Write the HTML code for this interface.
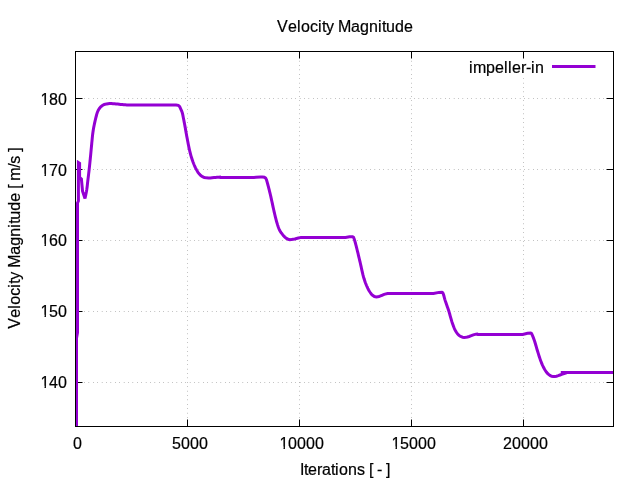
<!DOCTYPE html>
<html><head><meta charset="utf-8"><title>Velocity Magnitude</title>
<style>html,body{margin:0;padding:0;background:#fff;overflow:hidden}</style></head>
<body>
<svg width="640" height="480" viewBox="0 0 640 480" style="display:block">
<rect width="640" height="480" fill="#fff"/>
<path d="M75.5 382.5H613.5 M75.5 311.5H613.5 M75.5 240.5H613.5 M75.5 169.5H613.5 M75.5 98.5H613.5 M187.5 426.5V51.5 M299.5 426.5V51.5 M411.5 426.5V51.5 M523.5 426.5V76" stroke="#000" stroke-width="0.6" stroke-dasharray="0.4 4" fill="none"/>
<path d="M75.5 382.5h7M613.5 382.5h-7 M75.5 311.5h7M613.5 311.5h-7 M75.5 240.5h7M613.5 240.5h-7 M75.5 169.5h7M613.5 169.5h-7 M75.5 98.5h7M613.5 98.5h-7 M75.5 426.5v-7M75.5 51.5v7 M187.5 426.5v-7M187.5 51.5v7 M299.5 426.5v-7M299.5 51.5v7 M411.5 426.5v-7M411.5 51.5v7 M523.5 426.5v-7M523.5 51.5v7" stroke="#000" stroke-width="1" fill="none"/>
<clipPath id="feet"><path clip-rule="evenodd" d="M0 0H640V480H0Z M40.00 385.80H44.52V389.10H40.00Z M45.94 385.80H49.80V389.10H45.94Z M40.00 314.80H44.52V318.10H40.00Z M45.94 314.80H49.80V318.10H45.94Z M40.00 243.80H44.52V247.10H40.00Z M45.94 243.80H49.80V247.10H45.94Z M40.00 173.80H44.52V177.10H40.00Z M45.94 173.80H49.80V177.10H45.94Z M40.00 102.80H44.52V106.10H40.00Z M45.94 102.80H49.80V106.10H45.94Z M279.00 446.40H283.52V449.70H279.00Z M284.94 446.40H288.80V449.70H284.94Z M391.00 446.40H395.52V449.70H391.00Z M396.94 446.40H400.80V449.70H396.94Z"/></clipPath>
<g font-family="'Liberation Sans', Arial, sans-serif" font-size="16" fill="#000" stroke="#000" stroke-width="0.2" style="font-kerning:none">
<g clip-path="url(#feet)">
<text x="40.5 49 58" y="388.1">140</text>
<text x="40.5 49 58" y="317.1">150</text>
<text x="40.5 49 58" y="246.1">160</text>
<text x="40.5 49 58" y="176.1">170</text>
<text x="40.5 49 58" y="105.1">180</text>
<text x="73" y="448.7">0</text>
<text x="172 181 190 199" y="448.7">5000</text>
<text x="279.5 288 297 306 315" y="448.7">10000</text>
<text x="391.5 400 409 418 427" y="448.7">15000</text>
<text x="503 512 521 530 539" y="448.7">20000</text>
</g>
<text x="277 288 297 301 310 318 322 326 334 338 351 360 369 378 382 386 395 404" y="31.6">Velocity Magnitude</text>
<text x="300 304 308 317 322 331 335 339 348 357 365 369 373 377 382 386" y="475">Iterations [ - ]</text>
<text x="0 11 20 24 33 41 45 49 57 61 74 83 92 101 105 109 118 127 136 140 144 148 161 165 173 177" y="0" transform="translate(19.5 328.7) rotate(-90)">Velocity Magnitude [ m/s ]</text>
<text x="469 473 486 495 504 508 512 521 526 531 535" y="72.7">impeller-in</text>
</g>
<path d="M552 66.5H595.5" stroke="#9400d3" stroke-width="3" fill="none"/>
<clipPath id="c"><rect x="75" y="51" width="539" height="376"/></clipPath>
<polyline clip-path="url(#c)" points="76.50,430.00 76.50,338.30 77.50,332.60 77.50,203.00 78.40,201.00 78.40,162.60 79.60,163.40 79.60,177.50 81.40,179.00 82.55,191.20 85.00,198.40 85.35,196.73 85.71,195.08 86.06,193.42 86.40,191.73 86.70,190.00 86.94,188.39 87.15,186.74 87.34,185.06 87.52,183.37 87.71,181.68 87.90,180.00 88.10,178.34 88.30,176.70 88.50,175.06 88.70,173.40 88.90,171.72 89.10,170.00 89.26,168.55 89.42,167.08 89.58,165.58 89.74,164.07 89.89,162.55 90.05,161.03 90.20,159.51 90.35,158.00 90.50,156.51 90.64,155.02 90.78,153.53 90.92,152.04 91.06,150.55 91.20,149.05 91.35,147.53 91.50,146.00 91.65,144.51 91.79,142.96 91.95,141.38 92.10,139.78 92.25,138.21 92.41,136.66 92.57,135.18 92.73,133.79 92.90,132.50 93.16,130.70 93.43,129.08 93.70,127.55 94.00,126.00 94.31,124.45 94.64,122.91 94.98,121.41 95.30,120.00 95.80,117.93 96.30,116.00 96.78,114.18 97.30,112.50 98.30,110.20 99.40,108.50 100.70,106.90 102.40,105.50 104.30,104.50 106.60,103.90 108.06,103.68 109.60,103.55 111.25,103.55 113.00,103.65 114.49,103.77 116.06,103.93 117.75,104.10 119.15,104.24 120.65,104.39 122.20,104.55 123.75,104.69 125.25,104.80 126.89,104.89 128.44,104.94 130.09,104.97 132.00,105.00 133.19,105.01 134.46,105.01 135.81,105.01 137.24,105.00 138.72,104.99 140.25,104.98 141.83,104.96 143.43,104.95 145.07,104.93 146.71,104.92 148.36,104.91 150.00,104.90 151.41,104.90 152.84,104.89 154.30,104.89 155.79,104.89 157.30,104.89 158.82,104.89 160.37,104.89 161.92,104.89 163.49,104.89 165.06,104.89 166.63,104.89 168.21,104.90 169.78,104.90 171.35,104.90 172.91,104.90 174.46,104.90 176.00,104.90 178.30,105.30 179.70,106.60 180.90,109.30 181.57,110.81 182.20,112.50 182.56,113.85 182.89,115.36 183.19,116.94 183.50,118.50 183.81,120.06 184.11,121.60 184.42,123.22 184.75,125.00 185.00,126.37 185.26,127.84 185.54,129.39 185.82,131.00 186.11,132.64 186.41,134.28 186.70,135.91 187.00,137.50 187.30,139.09 187.61,140.70 187.92,142.33 188.23,143.95 188.55,145.55 188.86,147.10 189.18,148.59 189.50,150.00 189.89,151.63 190.27,153.15 190.65,154.60 191.06,156.04 191.50,157.50 191.98,159.01 192.48,160.52 193.01,162.03 193.58,163.52 194.20,165.00 194.89,166.53 195.64,168.10 196.42,169.63 197.22,171.06 198.00,172.30 199.35,174.08 200.80,175.50 202.47,176.67 204.30,177.50 206.33,177.87 208.50,177.95 210.27,177.91 212.12,177.76 214.00,177.60 215.50,177.48 217.03,177.36 218.57,177.23 220.10,177.10 220.40,177.40 254.00,177.40 256.00,177.20 260.50,176.95 262.50,176.90 264.30,177.20 265.60,178.10 266.50,179.80 267.30,182.60 267.68,184.01 268.10,185.60 268.43,186.88 268.81,188.33 269.21,189.91 269.61,191.52 270.00,193.10 270.39,194.75 270.77,196.42 271.15,198.11 271.53,199.81 271.90,201.50 272.27,203.19 272.63,204.88 272.99,206.57 273.36,208.27 273.75,210.00 274.11,211.56 274.47,213.15 274.85,214.76 275.23,216.35 275.61,217.91 276.00,219.40 276.51,221.30 277.03,223.14 277.56,224.89 278.10,226.50 278.65,227.99 279.21,229.35 279.90,230.70 280.91,232.32 282.09,233.93 283.30,235.40 284.85,237.07 286.50,238.40 288.17,239.25 289.90,239.70 291.44,239.62 293.00,239.30 294.73,238.93 296.50,238.50 298.34,238.05 300.20,237.60 300.80,237.50 345.50,237.50 349.50,236.70 352.60,236.70 353.50,237.20 354.20,239.00 354.78,240.83 355.40,243.00 355.80,244.51 356.21,246.11 356.64,247.85 357.10,249.75 357.42,251.06 357.77,252.48 358.13,253.97 358.50,255.53 358.88,257.12 359.27,258.74 359.65,260.35 360.03,261.95 360.40,263.50 360.76,265.05 361.11,266.63 361.45,268.22 361.80,269.81 362.15,271.39 362.50,272.94 362.85,274.44 363.22,275.88 363.60,277.25 364.15,279.07 364.72,280.80 365.29,282.44 365.89,284.00 366.50,285.50 367.15,286.99 367.82,288.40 368.51,289.73 369.25,291.00 370.23,292.52 371.27,293.95 372.30,295.10 374.40,296.50 376.50,296.90 379.00,296.50 380.49,295.95 382.00,295.30 383.51,294.66 385.00,294.10 387.60,293.50 433.50,293.50 439.00,292.40 441.90,292.30 442.80,292.80 443.50,294.50 443.93,295.98 444.39,297.77 444.90,299.60 445.36,301.05 445.87,302.53 446.39,304.02 446.90,305.50 447.39,306.91 447.88,308.27 448.38,309.71 448.90,311.30 449.29,312.59 449.70,314.00 450.11,315.52 450.54,317.08 450.98,318.65 451.42,320.19 451.86,321.65 452.30,323.00 452.85,324.59 453.40,326.10 453.96,327.54 454.55,328.90 455.20,330.20 456.23,332.01 457.34,333.66 458.50,335.00 459.81,336.01 461.20,336.70 462.67,337.18 464.20,337.40 465.85,337.31 467.50,337.00 469.13,336.49 470.70,335.90 473.30,334.90 476.00,334.15 477.20,334.10 477.80,334.40 522.75,334.40 527.50,333.20 530.70,333.10 531.60,333.60 532.40,335.40 532.93,336.67 533.52,338.15 534.10,339.70 534.56,341.08 535.02,342.54 535.46,344.03 535.90,345.50 536.31,346.91 536.71,348.30 537.12,349.73 537.60,351.30 538.02,352.66 538.49,354.14 538.98,355.71 539.50,357.30 540.03,358.88 540.57,360.39 541.10,361.80 541.71,363.33 542.33,364.80 542.96,366.20 543.62,367.54 544.30,368.80 545.32,370.50 546.39,372.07 547.50,373.40 548.86,374.66 550.30,375.60 551.72,376.19 553.20,376.50 554.83,376.48 556.50,376.20 558.26,375.66 560.00,375.00 561.66,374.39 563.30,373.80 564.90,373.29 566.50,372.80 560.80,372.40 613.50,372.40" stroke="#9400d3" stroke-width="3" fill="none" stroke-linejoin="miter" stroke-miterlimit="3" stroke-linecap="butt"/>
<rect x="75.5" y="51.5" width="538" height="375" fill="none" stroke="#000" stroke-width="1"/>
</svg>
</body></html>
